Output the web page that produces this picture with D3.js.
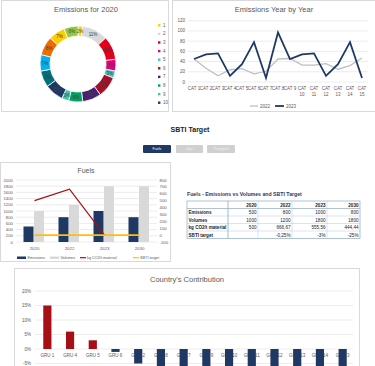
<!DOCTYPE html>
<html><head><meta charset="utf-8">
<script src="https://cdn.jsdelivr.net/npm/d3@7"></script>
<style>
body{margin:0;background:#fff;}
svg{display:block;font-family:"Liberation Sans",Arial,sans-serif;}
</style></head><body>
<svg id="c" width="375" height="366"></svg>
<script>
// ---------- DATA ----------
const donutLabels = ["1","2","3","4","5","6","7","8","9","10","11","12","13","14","15"];
const donutValues = [2,11,10,5,3,9,8,6,3,8,7,7,8,7,6];
const donutColors = ["#FFD200","#D9D9D9","#E2001A","#E6007E","#3EC7B5","#A3102A","#4A2070","#00A062","#45C1B2","#1F3864","#00707A","#00B0F0","#EE6B00","#FFCC00","#93C840"];

const lineCats = ["CAT 1","CAT 2","CAT 3","CAT 4","CAT 5","CAT 6","CAT 7","CAT 8","CAT 9","CAT 10","CAT 11","CAT 12","CAT 13","CAT 14","CAT 15"];
const s2022 = [45,27,12,24,26,16,21,45,46,33,33,36,25,32,47];
const s2023 = [45,54,56,12,35,78,8,97,45,54,56,12,35,78,8];
const lineTicks = [0,20,40,60,80,100,120];

const fuelYears = ["2020","2022","2023","2030"];
const fuelEmissions = [500,800,1000,800];
const fuelVolumes = [1000,1200,1800,1800];
const fuelKgChart = [500,666.67,0,null];
const fuelSbti = [0,-0.0025,-0.03,-0.25];
const leftTicks = [0,200,400,600,800,1000,1200,1400,1600,1800,2000];
const rightTicks = [-100,0,100,200,300,400,500,600,700,800];

const tableHeader = ["","2020","2022","2023","2030"];
const tableRows = [
  ["Emissions","500","800","1000","800"],
  ["Volumes","1000","1200","1800","1800"],
  ["kg CO2/t material","500","666,67","555,56","444,44"],
  ["SBTI target","","-0,25%","-3%","-25%"]
];

const buttons = ["Fuels","Gas","Transport"];

const countryCats = ["GRU 1","GRU 4","GRU 5","GRU 6","GRU 2","GRU 8","GRU 7","GRU 9","GRU 10","GRU 11","GRU 12","GRU 13","GRU 14","GRU 3"];
const countryVals = [15,6,3,-1,-5,-7,-7.5,-8,-8.5,-9,-9.5,-10,-10.5,-11];
const countryTicks = [-5,0,5,10,15,20];

// ---------- DRAW ----------
const svg = d3.select("#c");
const grey = "#595959", grid = "#D9D9D9";

function card(x,y,w,h){svg.append("rect").attr("x",x+0.5).attr("y",y+0.5).attr("width",w).attr("height",h).attr("fill","#fff").attr("stroke","#D9D9D9");}

// Donut card
card(1,0,167,111);
svg.append("text").attr("x",86).attr("y",12).attr("text-anchor","middle").attr("font-size",7.5).attr("fill",grey).text("Emissions for 2020");
const pie = d3.pie().sort(null).value(d=>d)(donutValues);
const arc = d3.arc().innerRadius(28).outerRadius(38);
const dg = svg.append("g").attr("transform","translate(78,64)");
dg.selectAll("path").data(pie).join("path").attr("d",arc).attr("fill",(d,i)=>donutColors[i]).attr("stroke","#fff").attr("stroke-width",0.8);
dg.selectAll("text").data(pie).join("text").attr("transform",d=>`translate(${arc.centroid(d)})`)
  .attr("text-anchor","middle").attr("dy","0.35em").attr("font-size",4.5).attr("fill","#404040")
  .text(d=>d.data+"%");
const lg = svg.append("g");
donutLabels.slice(0,10).forEach((l,i)=>{
  const y = 25.3 + i*8.6;
  lg.append("rect").attr("x",158).attr("y",y-1.2).attr("width",2.4).attr("height",2.4).attr("fill",donutColors[i]);
  lg.append("text").attr("x",163).attr("y",y).attr("dy","0.35em").attr("font-size",4.5).attr("fill",grey).text(l);
});

// Line chart card
card(172,0,205,111);
svg.append("text").attr("x",274).attr("y",12).attr("text-anchor","middle").attr("font-size",7.5).attr("fill",grey).text("Emissions Year by Year");
const lx = d3.scaleBand().domain(lineCats).range([188,368]);
const ly = d3.scaleLinear().domain([0,120]).range([82,20.7]);
const lgr = svg.append("g");
lgr.selectAll("line").data(lineTicks).join("line").attr("x1",188).attr("x2",368).attr("y1",d=>ly(d)).attr("y2",d=>ly(d)).attr("stroke",grid).attr("stroke-width",0.5);
lgr.selectAll("text").data(lineTicks).join("text").attr("x",185).attr("y",d=>ly(d)).attr("dy","0.35em").attr("text-anchor","end").attr("font-size",4.5).attr("fill",grey).text(d=>d);
const lxLab = svg.append("g");
lineCats.forEach((c,i)=>{
  const cx = lx(c)+lx.bandwidth()/2;
  const parts = c.split(" ");
  if(+parts[1] < 10){
    lxLab.append("text").attr("x",cx).attr("y",90).attr("text-anchor","middle").attr("font-size",4.5).attr("fill",grey).text(c);
  } else {
    lxLab.append("text").attr("x",cx).attr("y",90).attr("text-anchor","middle").attr("font-size",4.5).attr("fill",grey).text(parts[0]);
    lxLab.append("text").attr("x",cx).attr("y",96).attr("text-anchor","middle").attr("font-size",4.5).attr("fill",grey).text(parts[1]);
  }
});
const line = d3.line().x((d,i)=>lx(lineCats[i])+lx.bandwidth()/2).y(d=>ly(d));
svg.append("path").attr("d",line(s2022)).attr("fill","none").attr("stroke","#BFBFBF").attr("stroke-width",1.3);
svg.append("path").attr("d",line(s2023)).attr("fill","none").attr("stroke","#1F3864").attr("stroke-width",1.8);
svg.append("line").attr("x1",250).attr("x2",258).attr("y1",106).attr("y2",106).attr("stroke","#BFBFBF").attr("stroke-width",1.3);
svg.append("text").attr("x",260).attr("y",106).attr("dy","0.35em").attr("font-size",4.5).attr("fill",grey).text("2022");
svg.append("line").attr("x1",275).attr("x2",284).attr("y1",106).attr("y2",106).attr("stroke","#1F3864").attr("stroke-width",1.8);
svg.append("text").attr("x",286).attr("y",106).attr("dy","0.35em").attr("font-size",4.5).attr("fill",grey).text("2023");

// SBTI title + buttons
svg.append("text").attr("x",190).attr("y",131.5).attr("text-anchor","middle").attr("font-size",7).attr("font-weight","bold").attr("fill","#222").text("SBTI Target");
const btnX = [143,176,207], btnW=[28,27,28];
buttons.forEach((b,i)=>{
  svg.append("rect").attr("x",btnX[i]).attr("y",145).attr("width",btnW[i]).attr("height",8).attr("rx",1).attr("fill",i===0?"#1F3864":"#D0D0D0");
  svg.append("text").attr("x",btnX[i]+btnW[i]/2).attr("y",149).attr("dy","0.35em").attr("text-anchor","middle").attr("font-size",3.6).attr("fill",i===0?"#fff":"#F2F2F2").text(b);
});

// Fuels card
card(0,162,170,99);
svg.append("text").attr("x",86).attr("y",172.5).attr("text-anchor","middle").attr("font-size",7).attr("fill",grey).text("Fuels");
const fx = d3.scaleBand().domain(fuelYears).range([17,157]);
const fyL = d3.scaleLinear().domain([0,2000]).range([242,180]);
const fyR = d3.scaleLinear().domain([-100,800]).range([242,180]);
const fg = svg.append("g");
fg.selectAll("line").data(leftTicks).join("line").attr("x1",16).attr("x2",157).attr("y1",d=>fyL(d)).attr("y2",d=>fyL(d)).attr("stroke",grid).attr("stroke-width",0.5);
fg.selectAll("text.l").data(leftTicks).join("text").attr("class","l").attr("x",13).attr("y",d=>fyL(d)).attr("dy","0.35em").attr("text-anchor","end").attr("font-size",4.3).attr("fill",grey).text(d=>d);
fg.selectAll("text.r").data(rightTicks).join("text").attr("class","r").attr("x",159.5).attr("y",d=>fyR(d)).attr("dy","0.35em").attr("text-anchor","start").attr("font-size",4.3).attr("fill",grey).text(d=>d);
const fc = y=>fx(y)+fx.bandwidth()/2;
fg.selectAll("rect.e").data(fuelEmissions).join("rect").attr("class","e").attr("x",(d,i)=>fc(fuelYears[i])-11).attr("width",10).attr("y",d=>fyL(d)).attr("height",d=>fyL(0)-fyL(d)).attr("fill","#1F3864");
fg.selectAll("rect.v").data(fuelVolumes).join("rect").attr("class","v").attr("x",(d,i)=>fc(fuelYears[i])-0.5).attr("width",10).attr("y",d=>fyL(d)).attr("height",d=>fyL(0)-fyL(d)).attr("fill","#D9D9D9");
fg.selectAll("text.x").data(fuelYears).join("text").attr("class","x").attr("x",d=>fc(d)).attr("y",249.5).attr("text-anchor","middle").attr("font-size",4.3).attr("fill",grey).text(d=>d);
const fl = d3.line().defined(d=>d!==null).x((d,i)=>fc(fuelYears[i])).y(d=>fyR(d));
svg.append("path").attr("d",fl(fuelKgChart)).attr("fill","none").attr("stroke","#A50F15").attr("stroke-width",1.2);
svg.append("path").attr("d",fl(fuelSbti)).attr("fill","none").attr("stroke","#FFC000").attr("stroke-width",1.6);
// legend
const fleg = [
  {t:"Emissions",c:"#1F3864",k:"r",x:17},
  {t:"Volumes",c:"#D9D9D9",k:"r",x:50},
  {t:"kg CO2/t material",c:"#A50F15",k:"l",x:80},
  {t:"SBTI target",c:"#FFC000",k:"l",x:133}
];
fleg.forEach(f=>{
  if(f.k==="r") svg.append("rect").attr("x",f.x).attr("y",256.5).attr("width",9).attr("height",2.5).attr("fill",f.c);
  else svg.append("line").attr("x1",f.x).attr("x2",f.x+6).attr("y1",257.7).attr("y2",257.7).attr("stroke",f.c).attr("stroke-width",1.2);
  svg.append("text").attr("x",f.x+(f.k==="r"?10.5:7)).attr("y",257.7).attr("dy","0.35em").attr("font-size",3.8).attr("fill",grey).text(f.t);
});

// Table
svg.append("text").attr("x",187).attr("y",195.5).attr("font-size",5.2).attr("font-weight","bold").attr("fill","#1F3864").text("Fuels - Emissions vs Volumes and SBTI Target");
const colX = [187,228,258,292,327,360];
const rowY = [201,208.5,216,223.5,231,238.5];
const tg = svg.append("g");
tg.append("rect").attr("x",colX[0]).attr("y",rowY[0]).attr("width",colX[5]-colX[0]).attr("height",rowY[5]-rowY[0]).attr("fill","#fff").attr("stroke","#8EA9C1").attr("stroke-width",0.7);
rowY.slice(1,5).forEach((y,i)=>tg.append("line").attr("x1",colX[0]).attr("x2",colX[5]).attr("y1",y).attr("y2",y).attr("stroke",i===0?"#8EA9C1":"#B4C6E7").attr("stroke-width",i===0?0.7:0.5));
colX.slice(1,5).forEach((x,i)=>tg.append("line").attr("x1",x).attr("x2",x).attr("y1",rowY[0]).attr("y2",rowY[5]).attr("stroke",i===0?"#8EA9C1":"#B4C6E7").attr("stroke-width",i===0?0.8:0.5));
[tableHeader,...tableRows].forEach((row,r)=>{
  row.forEach((v,c)=>{
    if(!v) return;
    const bold = r===0 || c===0;
    tg.append("text").attr("x",c===0?colX[0]+1.5:colX[c+1]-1.5).attr("y",rowY[r]+5.5)
      .attr("text-anchor",c===0?"start":"end").attr("font-size",4.6).attr("font-weight",bold?"bold":"normal")
      .attr("fill","#222").text(v);
  });
});

// Country card
card(14,268,345,110);
svg.append("text").attr("x",187).attr("y",282).attr("text-anchor","middle").attr("font-size",7.5).attr("fill",grey).text("Country's Contribution");
const cx = d3.scaleBand().domain(countryCats).range([36,354]).paddingInner(0.64).paddingOuter(0.32);
const cy = d3.scaleLinear().domain([-5,20]).range([363.5,291]);
const cg = svg.append("g");
cg.selectAll("line").data(countryTicks).join("line").attr("x1",35).attr("x2",353).attr("y1",d=>cy(d)).attr("y2",d=>cy(d)).attr("stroke",grid).attr("stroke-width",0.5);
cg.selectAll("text.y").data(countryTicks).join("text").attr("class","y").attr("x",31).attr("y",d=>cy(d)).attr("dy","0.35em").attr("text-anchor","end").attr("font-size",4.5).attr("fill",grey).text(d=>d+"%");
cg.selectAll("text.x").data(countryCats).join("text").attr("class","x").attr("x",d=>cx(d)+cx.bandwidth()/2).attr("y",356.5).attr("text-anchor","middle").attr("font-size",4.5).attr("fill",grey).text(d=>d);
cg.selectAll("rect").data(countryVals).join("rect")
  .attr("x",(d,i)=>cx(countryCats[i])).attr("width",cx.bandwidth())
  .attr("y",d=>cy(Math.max(0,d))).attr("height",d=>Math.abs(cy(d)-cy(0)))
  .attr("fill",d=>d>=0?"#A50F15":"#1F3864");
</script></body></html>
